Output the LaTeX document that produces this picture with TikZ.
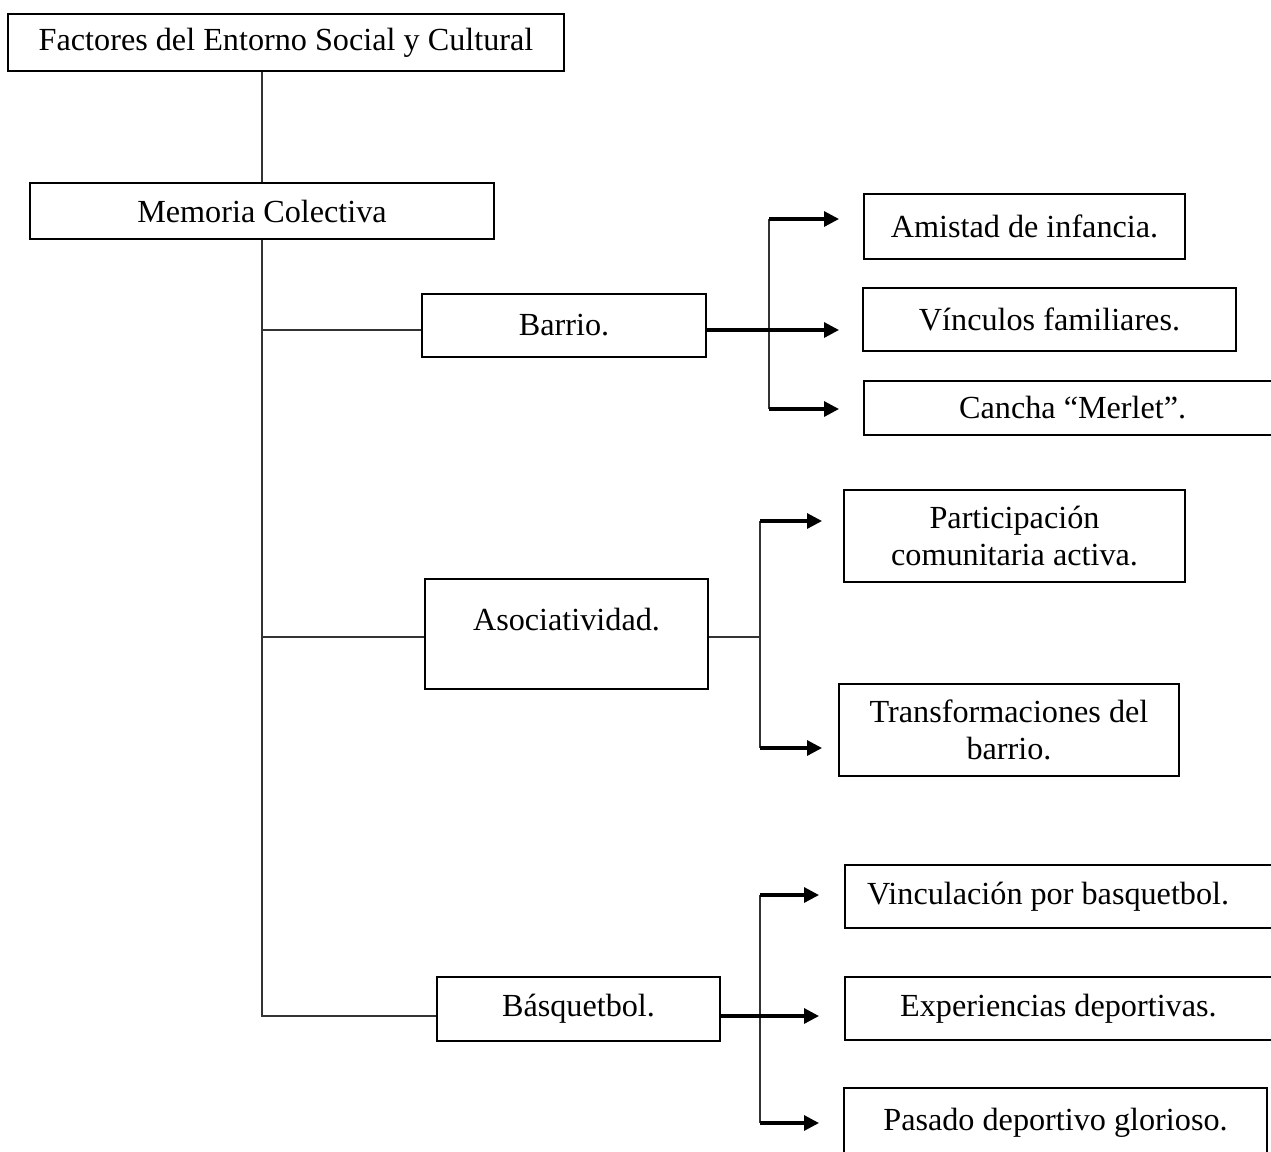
\documentclass[tikz,border=0pt]{standalone}
\usepackage{fontspec}
\setmainfont{Liberation Serif}
\usetikzlibrary{arrows.meta,calc}
\newcommand\boxfont{\fontsize{32.2}{37}\selectfont}

\begin{document}
\begin{tikzpicture}[x=1pt,y=-1pt,
  box/.style={draw, line width=2.3pt, inner sep=0pt, font=\boxfont, align=center},
  openbox/.style={box, anchor=west, text width=440pt, align=flush left},
  link/.style={line width=1.2pt, draw=black!80},
  feed/.style={line width=3.2pt, -{Triangle[length=15pt,width=15pt]}}]
\useasboundingbox (0,0) rectangle (1271,1151);
\clip (0,0) rectangle (1271,1151);

% main hierarchy
\node[box, minimum width=556pt, minimum height=57pt] (top) at (286,42.5) {Factores del Entorno Social y Cultural};
\node[box, minimum width=464pt, minimum height=56pt] (mem) at (262,211) {Memoria Colectiva};

% categories
\node[box, minimum width=284pt, minimum height=63pt] (barrio) at (564,325.5) {Barrio.};
\node[box, minimum width=283pt, minimum height=110pt, text depth=30pt] (asoc) at (566.5,634) {Asociatividad.};
\node[box, minimum width=283pt, minimum height=64pt] (basq) at (578.5,1009) {Básquetbol.};

% sub-categories of Barrio
\node[box, minimum width=321pt, minimum height=65pt] (amistad) at (1024.5,226.5) {Amistad de infancia.};
\node[box, minimum width=373pt, minimum height=63pt] (vinc) at (1049.5,319.5) {Vínculos familiares.};
\node[openbox, minimum height=54pt] (cancha) at (863,408) {\hspace*{95pt}Cancha “Merlet”.};

% sub-categories of Asociatividad
\node[box, minimum width=341pt, minimum height=92pt] (part) at (1014.5,536) {Participación\\comunitaria activa.};
\node[box, minimum width=340pt, minimum height=92pt] (trans) at (1009,730) {Transformaciones del\\barrio.};

% sub-categories of Basquetbol
\node[openbox, minimum height=63pt] (vbasq) at (844,896.5) {\hspace*{22pt}Vinculación por basquetbol.};
\node[openbox, minimum height=63pt] (exper) at (844,1008.5) {\hspace*{55pt}Experiencias deportivas.};
\node[box, minimum width=423pt, minimum height=70pt] (pasado) at (1055.5,1123) {Pasado deportivo glorioso.};

% entry points on the category boxes
\coordinate (inB) at ($(barrio.west)+(0,4.5)$);
\coordinate (inA) at ($(asoc.west)+(0,3)$);
\coordinate (inS) at ($(basq.west)+(0,7)$);
\coordinate (outB) at ($(barrio.east)+(0,4.5)$);
\coordinate (outA) at ($(asoc.east)+(0,3)$);
\coordinate (outS) at ($(basq.east)+(0,7)$);

% spines of the fans
\coordinate (spB) at (769,0);
\coordinate (spA) at (760,0);
\coordinate (spS) at (760,0);

% arrow ends
\coordinate (tB1) at (839,219);
\coordinate (tB2) at (839,330);
\coordinate (tB3) at (839,409);
\coordinate (tA1) at (822,521);
\coordinate (tA2) at (822,748);
\coordinate (tS1) at (819,895);
\coordinate (tS2) at (819,1016);
\coordinate (tS3) at (819,1123);

% trunk
\draw[link] (mem.north) -- (mem.north |- top.south);
\draw[link] (mem.south) |- (inS);
\draw[link] (mem.south |- inB) -- (inB);
\draw[link] (mem.south |- inA) -- (inA);

% Barrio fan
\draw[link] (tB1 -| spB) -- (tB3 -| spB);
\draw[feed] (outB) -- (tB2);
\draw[feed] (tB1 -| spB) -- (tB1);
\draw[feed] (tB3 -| spB) -- (tB3);

% Asociatividad fan
\draw[link] (outA) -- (outA -| spA);
\draw[link] (tA1 -| spA) -- (tA2 -| spA);
\draw[feed] (tA1 -| spA) -- (tA1);
\draw[feed] (tA2 -| spA) -- (tA2);

% Basquetbol fan
\draw[link] (tS1 -| spS) -- (tS3 -| spS);
\draw[feed] (outS) -- (tS2);
\draw[feed] (tS1 -| spS) -- (tS1);
\draw[feed] (tS3 -| spS) -- (tS3);
\end{tikzpicture}
\end{document}
